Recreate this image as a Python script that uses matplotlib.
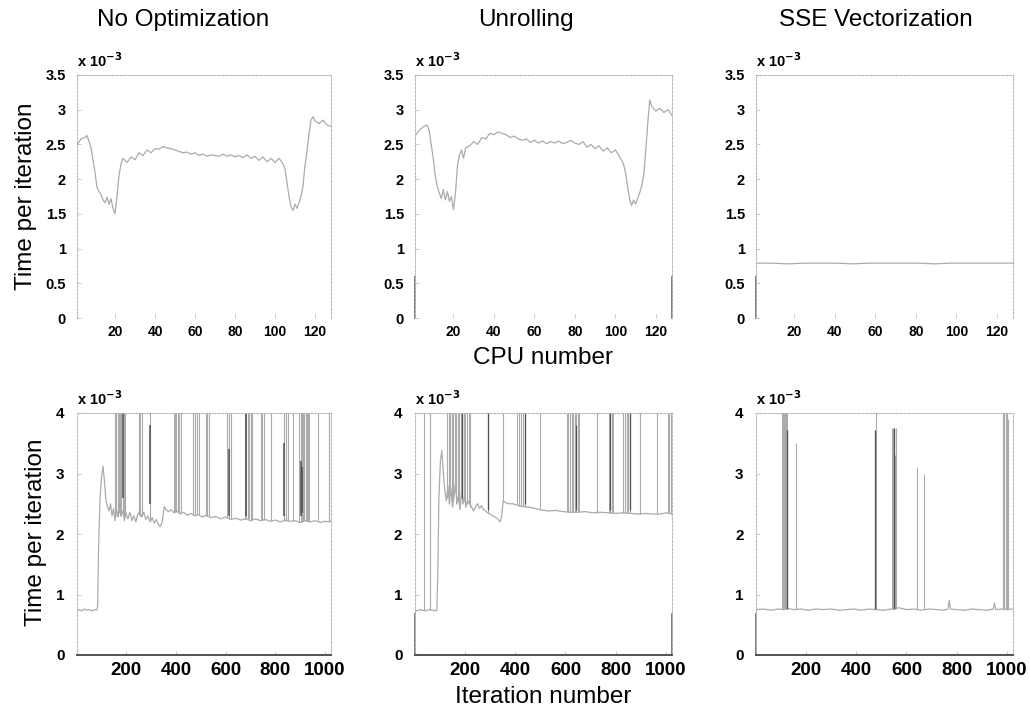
import numpy as np
import matplotlib.pyplot as plt

# ---- top row: time per iteration (x 1e-3 s) against CPU number ----
cpu_noopt = [1, 3, 5, 6, 8, 10,
             11, 12, 13, 14, 15, 16, 17, 18, 19, 20, 21, 22, 23, 24,
             26, 28, 30, 32, 34, 36, 38, 40, 42, 44,
             46, 48, 50, 52, 54, 56, 58, 60, 62, 64,
             66, 68, 70, 72, 74, 76, 78, 80, 82, 84,
             86, 88, 90, 92, 94, 96, 98, 100, 102, 104,
             105, 106, 107, 108, 109, 110, 111, 112, 113, 114, 115, 116, 117, 118, 119, 120,
             122, 124, 126, 128]
t_noopt_cpu = [2.49, 2.58, 2.6, 2.63, 2.45, 2.1,
               1.88, 1.82, 1.78, 1.7, 1.66, 1.74, 1.64, 1.72, 1.58, 1.5, 1.75, 2.05, 2.22, 2.3,
               2.24, 2.32, 2.28, 2.38, 2.34, 2.42, 2.38, 2.44, 2.43, 2.47,
               2.45, 2.44, 2.42, 2.4, 2.38, 2.39, 2.36, 2.38, 2.34, 2.36,
               2.33, 2.35, 2.34, 2.33, 2.36, 2.33, 2.35, 2.32, 2.34, 2.31,
               2.35, 2.3, 2.33, 2.27, 2.32, 2.25, 2.3, 2.24, 2.3, 2.22,
               2.15, 1.95, 1.75, 1.6, 1.55, 1.64, 1.58, 1.66, 1.75, 1.9, 2.2, 2.4, 2.65, 2.85, 2.9, 2.84,
               2.8, 2.85, 2.78, 2.76]

cpu_unroll = [1, 3, 5,
              7, 8, 9, 10, 11, 12, 13, 14, 15, 16, 17, 18, 19, 20, 21, 22, 23, 24, 25,
              26, 28, 30, 32, 34, 36, 38, 40, 42, 44,
              46, 48, 50, 52, 54, 56, 58, 60, 62, 64,
              66, 68, 70, 72, 74, 76, 78, 80, 82, 84,
              86, 88, 90, 92, 94, 96, 98, 100, 102, 104,
              105, 106, 107, 108, 109, 110, 111, 112, 113, 114, 115, 116, 117, 118,
              120, 122, 124, 126, 128]
t_unroll_cpu = [2.62, 2.7, 2.75,
                2.78, 2.7, 2.5, 2.3, 2.05, 1.9, 1.8, 1.72, 1.85, 1.7, 1.82, 1.68, 1.75, 1.56, 1.8, 2.2, 2.35, 2.42, 2.3,
                2.45, 2.48, 2.54, 2.5, 2.6, 2.58, 2.66, 2.64, 2.68, 2.66,
                2.64, 2.6, 2.62, 2.58, 2.56, 2.58, 2.53, 2.56, 2.52, 2.55,
                2.51, 2.54, 2.52, 2.55, 2.51, 2.53, 2.56, 2.52, 2.5, 2.54,
                2.46, 2.5, 2.44, 2.48, 2.4, 2.45, 2.38, 2.42, 2.33, 2.22,
                2.1, 1.9, 1.72, 1.62, 1.7, 1.64, 1.72, 1.8, 1.9, 2.05, 2.4, 2.8, 3.14, 3.05,
                2.98, 3.02, 2.96, 3.0, 2.92]

cpu_sse = [1, 9, 17, 25, 33, 41, 49, 57, 65, 73, 81, 89, 97, 105, 113, 121, 128]
t_sse_cpu = [0.79, 0.79, 0.78, 0.79, 0.79, 0.79, 0.78, 0.79, 0.79, 0.79, 0.79, 0.78, 0.79, 0.79, 0.79, 0.79, 0.79]

# ---- bottom row: time per iteration (x 1e-3 s) against iteration number ----
it_noopt = [1, 10, 20, 30, 40, 50, 60, 70, 80,
            84, 88, 94, 100, 106, 112, 118, 124,
            130, 136, 142, 148, 154, 160, 166, 172, 178, 186,
            192, 198, 206, 214, 222, 230, 238, 246, 254, 262,
            270, 278, 286, 296, 304, 312, 320, 328, 336, 344,
            352, 360, 370, 380, 392, 404, 416, 430, 445, 460,
            475, 490, 505, 520, 540, 560, 580, 600, 620, 640,
            660, 680, 700, 720, 740, 760, 780, 800, 820, 840,
            860, 880, 900, 920, 940, 960, 980, 1000, 1012, 1024]
t_noopt_it = [0.74, 0.75, 0.73, 0.76, 0.74, 0.75, 0.73, 0.75, 0.74,
              0.8, 1.8, 2.6, 2.95, 3.12, 2.85, 2.55, 2.45,
              2.38, 2.5, 2.3, 2.42, 2.22, 2.4, 2.28, 2.45, 2.3, 2.38,
              2.22, 2.35, 2.25, 2.36, 2.22, 2.3, 2.2, 2.33, 2.38, 2.28,
              2.36, 2.24, 2.3, 2.2, 2.27, 2.18, 2.24, 2.16, 2.12, 2.2,
              2.45, 2.4, 2.37, 2.4, 2.35, 2.38, 2.33, 2.36, 2.31, 2.34,
              2.3, 2.32, 2.28, 2.31, 2.27, 2.29, 2.25, 2.28, 2.24, 2.26,
              2.23, 2.25, 2.22, 2.25, 2.22, 2.24, 2.21, 2.23, 2.2, 2.23,
              2.21, 2.22, 2.19, 2.22, 2.2, 2.22, 2.19, 2.21, 2.2, 2.22]
spk_noopt_it = [155, 160, 165, 170, 175, 180, 185, 190, 195,
                250, 256, 262, 296,
                391, 396, 401, 406, 411, 418,
                470, 478, 485, 492, 520, 526, 533,
                606, 613, 620,
                676, 681, 688, 694, 701, 706,
                742, 748, 755, 782,
                836, 843, 850, 870,
                897, 902, 907, 912, 917, 922, 927, 932, 937,
                971, 1017]
spk_noopt_lo = [2.3, 2.35, 2.3, 2.35, 2.3, 2.3, 2.35, 2.3, 2.3,
                2.32, 2.3, 2.3, 2.22,
                2.36, 2.36, 2.37, 2.36, 2.35, 2.34,
                2.31, 2.31, 2.31, 2.31, 2.3, 2.3, 2.29,
                2.26, 2.26, 2.25,
                2.25, 2.25, 2.24, 2.24, 2.23, 2.23,
                2.23, 2.23, 2.23, 2.22,
                2.22, 2.22, 2.22, 2.21,
                2.2, 2.2, 2.2, 2.21, 2.21, 2.21, 2.21, 2.21, 2.2,
                2.21, 2.2]
dark_noopt_it = [188, 296, 613, 681, 836, 904, 906]
dark_noopt_lo = [2.6, 2.5, 2.3, 2.3, 2.3, 2.3, 2.35]
dark_noopt_hi = [4.0, 3.8, 3.4, 4.0, 3.5, 3.2, 3.1]

it_unroll = [1, 10, 20, 30, 45, 55, 70, 80, 88,
             92, 96, 102, 108, 114, 120, 126,
             132, 138, 144, 150, 156, 162, 168, 174, 180, 186,
             192, 198, 204, 210, 218, 226, 234, 242, 250, 258,
             266, 274, 282, 290, 300, 310, 320, 330, 340, 346,
             352, 360, 375, 390, 405, 420, 440, 460, 480, 500,
             530, 560, 590, 620, 650, 680, 710, 740, 770, 800,
             830, 860, 890, 920, 950, 980, 1000, 1024]
t_unroll_it = [0.74, 0.73, 0.75, 0.74, 0.73, 0.75, 0.74, 0.73, 0.74,
               1.4, 2.6, 3.2, 3.38, 3.0, 2.7, 2.55,
               2.8, 2.5, 2.75, 2.45, 2.6, 2.85, 2.5, 2.65, 2.4, 2.7,
               2.5, 2.62, 2.45, 2.55, 2.5, 2.45, 2.38, 2.45, 2.5, 2.42,
               2.47, 2.4, 2.38, 2.35, 2.33, 2.3, 2.28, 2.25, 2.2, 2.3,
               2.55, 2.52, 2.5, 2.5, 2.48, 2.46, 2.45, 2.44, 2.42, 2.4,
               2.38, 2.39, 2.37, 2.36, 2.36, 2.37, 2.35, 2.36, 2.35, 2.34,
               2.35, 2.34, 2.33, 2.34, 2.33, 2.33, 2.35, 2.33]
spk_unroll_it = [37, 60,
                 130, 136, 142, 148, 154, 160, 166, 172, 178, 184, 190, 196, 202, 208, 214, 220,
                 290, 351, 406, 414, 422, 430, 438, 498,
                 606, 612, 618, 624, 630, 636, 642, 648, 654,
                 725, 772, 778, 784, 790,
                 829, 836, 843, 850, 857,
                 897, 964, 1008, 1014, 1020]
spk_unroll_lo = [0.74, 0.74,
                 2.6, 2.5, 2.7, 2.45, 2.6, 2.7, 2.5, 2.55, 2.45, 2.6, 2.5, 2.55, 2.45, 2.5, 2.5, 2.45,
                 2.35, 2.55, 2.48, 2.47, 2.47, 2.46, 2.45, 2.4,
                 2.37, 2.37, 2.37, 2.36, 2.36, 2.36, 2.36, 2.36, 2.36,
                 2.35, 2.35, 2.35, 2.35, 2.35,
                 2.35, 2.35, 2.34, 2.34, 2.34,
                 2.33, 2.33, 2.35, 2.34, 2.33]
dark_unroll_it = [188, 290, 438, 642, 777, 857]
dark_unroll_lo = [2.6, 2.4, 2.5, 2.4, 2.4, 2.4]
dark_unroll_hi = [4.0, 4.0, 4.0, 3.8, 4.0, 4.0]

it_sse = [1, 30, 60, 90, 110, 130, 150, 180, 210, 240,
          270, 300, 330, 360, 390, 420, 450, 480, 510, 540,
          570, 600, 630, 660, 690, 720, 750, 765, 770, 775,
          800, 830, 860, 890, 920, 945, 950, 955, 980, 1000, 1024]
t_sse_it = [0.75, 0.76, 0.74, 0.76, 0.75, 0.77, 0.75, 0.76, 0.74, 0.76,
            0.75, 0.76, 0.74, 0.75, 0.76, 0.74, 0.76, 0.75, 0.74, 0.76,
            0.78, 0.75, 0.76, 0.74, 0.76, 0.75, 0.74, 0.76, 0.9, 0.76,
            0.75, 0.74, 0.76, 0.75, 0.74, 0.76, 0.86, 0.75, 0.76, 0.75, 0.76]
spk_sse_it = [106, 110, 114, 118, 122, 126, 160, 475, 478, 541, 545, 549, 553, 557,
              643, 670, 985, 990, 995, 1000, 1005]
spk_sse_hi = [4.6, 4.6, 4.6, 4.6, 4.6, 4.6, 3.5, 3.72, 4.6, 3.75, 3.75, 3.75, 3.3, 3.75,
              3.1, 3.0, 4.6, 4.6, 4.6, 4.6, 3.9]
dark_sse_it = [124, 475, 549]
dark_sse_hi = [3.72, 3.72, 3.75]

sse_floor = 0.76
spike_top = 4.6

titles = ['No Optimization', 'Unrolling', 'SSE Vectorization']

light = '#ababab'
dark = '#505050'
W, H = 1030, 719
FONT = 'Liberation Sans'

fig = plt.figure(figsize=(W / 100, H / 100), dpi=100)
fig.patch.set_facecolor('white')


def px_axes(left, right, top, bottom):
    return fig.add_axes([left / W, 1 - bottom / H, (right - left) / W, (bottom - top) / H])


def style(ax, bottom_dark, dark_stubs):
    for side in ['top', 'left', 'right']:
        ax.spines[side].set_color('#b8b8b8')
        ax.spines[side].set_linestyle((0, (2, 1.5)))
        ax.spines[side].set_linewidth(0.8)
    if bottom_dark:
        ax.spines['bottom'].set_color('#444444')
        ax.spines['bottom'].set_linewidth(1.3)
    else:
        ax.spines['bottom'].set_visible(False)
    # the scan keeps the lower part of some box edges dark
    for xa in dark_stubs:
        ax.plot([xa, xa], [0, 0.17], color='#666666', lw=1.2, transform=ax.transAxes, clip_on=False)
    ax.tick_params(direction='in', length=3, color='#c0c0c0', width=0.6)
    ax.set_facecolor('white')
    ax.text(0.0, 1.02, r'x 10$^{\mathbf{-3}}$', transform=ax.transAxes,
            fontsize=10.5, fontweight='bold', family=FONT, va='bottom', ha='left')


def tick_fonts(ax, xs, ys):
    for lab in ax.get_xticklabels():
        lab.set_fontsize(xs)
        lab.set_fontweight('bold')
        lab.set_family(FONT)
    for lab in ax.get_yticklabels():
        lab.set_fontsize(ys)
        lab.set_fontweight('bold')
        lab.set_family(FONT)


lefts = [(77, 331), (415, 672), (756, 1013)]
top_axes = [px_axes(l, r, 75, 318) for l, r in lefts]
bot_axes = [px_axes(l, r, 413, 655) for l, r in lefts]
top_stubs = [[], [0, 1], [0]]
bot_stubs = [[], [0, 1], [0]]

top_series = [(cpu_noopt, t_noopt_cpu), (cpu_unroll, t_unroll_cpu), (cpu_sse, t_sse_cpu)]
for ax, (x, y), stubs in zip(top_axes, top_series, top_stubs):
    ax.plot(x, y, color=light, lw=0.9)
    ax.set_xlim(1, 128)
    ax.set_ylim(0, 3.5)
    ax.set_xticks([20, 40, 60, 80, 100, 120])
    ax.set_yticks([0, 0.5, 1, 1.5, 2, 2.5, 3, 3.5])
    ax.set_yticklabels(['0', '0.5', '1', '1.5', '2', '2.5', '3', '3.5'])
    tick_fonts(ax, 10, 10.5)
    ax.tick_params(axis='x', pad=5)
    ax.tick_params(axis='y', pad=8)
    style(ax, False, stubs)

# bottom row
ax = bot_axes[0]
ax.plot(it_noopt, t_noopt_it, color=light, lw=0.9)
ax.vlines(spk_noopt_it, spk_noopt_lo, spike_top, color=light, lw=0.8)
ax.vlines(dark_noopt_it, dark_noopt_lo, dark_noopt_hi, color=dark, lw=1.1)

ax = bot_axes[1]
ax.plot(it_unroll, t_unroll_it, color=light, lw=0.9)
ax.vlines(spk_unroll_it, spk_unroll_lo, spike_top, color=light, lw=0.8)
ax.vlines(dark_unroll_it, dark_unroll_lo, dark_unroll_hi, color=dark, lw=0.9)

ax = bot_axes[2]
ax.plot(it_sse, t_sse_it, color=light, lw=0.9)
ax.vlines(spk_sse_it, sse_floor, spk_sse_hi, color=light, lw=0.8)
ax.vlines(dark_sse_it, sse_floor, dark_sse_hi, color=dark, lw=0.9)

for ax, stubs in zip(bot_axes, bot_stubs):
    ax.set_xlim(1, 1024)
    ax.set_ylim(0, 4)
    ax.set_xticks([200, 400, 600, 800, 1000])
    ax.set_yticks([0, 1, 2, 3, 4])
    tick_fonts(ax, 13.5, 11)
    ax.tick_params(axis='x', pad=5)
    ax.tick_params(axis='y', pad=9)
    style(ax, True, stubs)

# titles and axis labels
title_x = [183, 526, 876]
for t, x in zip(titles, title_x):
    fig.text(x / W, 1 - 20 / H, t, ha='center', va='center', fontsize=17.5, family=FONT)

fig.text(26 / W, 1 - 196 / H, 'Time per iteration', rotation=90, ha='center', va='center',
         fontsize=17.5, family=FONT)
fig.text(36 / W, 1 - 532 / H, 'Time per iteration', rotation=90, ha='center', va='center',
         fontsize=17.5, family=FONT)
fig.text(543 / W, 1 - 358 / H, 'CPU number', ha='center', va='center', fontsize=17.5, family=FONT)
fig.text(543 / W, 1 - 697 / H, 'Iteration number', ha='center', va='center', fontsize=17.5, family=FONT)

fig.savefig('out.png', dpi=100)
